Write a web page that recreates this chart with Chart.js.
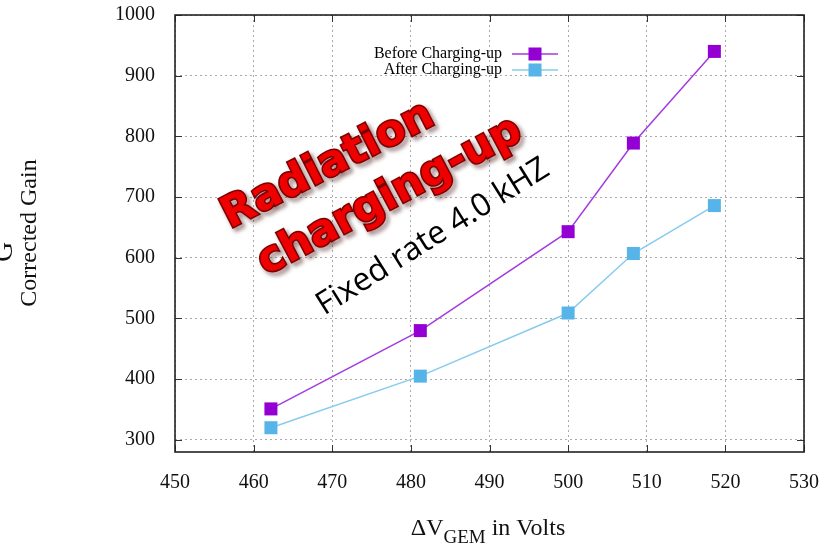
<!DOCTYPE html>
<html>
<head>
<meta charset="utf-8">
<script src="https://cdn.jsdelivr.net/npm/chart.js@4/dist/chart.umd.min.js"></script>
<style>
  body { margin: 0; background: #fff; }
  #wrap { width: 823px; height: 545px; position: relative; }
</style>
</head>
<body>
<div id="wrap"><canvas id="gainChart"></canvas></div>
<script>
// values
const voltages = [462.2, 481.2, 500, 508.3, 518.6];
const gainBefore = [351, 480, 643, 789, 940];
const gainAfter = [320, 405, 509, 607, 686];
const xTicks = [450, 460, 470, 480, 490, 500, 510, 520, 530];
const yTicks = [300, 400, 500, 600, 700, 800, 900, 1000];
const seriesNames = ['Before Charging-up', 'After Charging-up'];

const serif = "'Liberation Serif', 'DejaVu Serif', serif";

function toPoints(xs, ys) {
    return xs.map((x, i) => ({ x: x, y: ys[i] }));
}

// box, mirrored inner ticks, legend, axis titles and the slide text
const decorations = {
    id: 'decorations',
    beforeDatasetsDraw(chart) {
        const { ctx, chartArea: a, scales: { x, y } } = chart;
        ctx.save();
        ctx.strokeStyle = '#333';
        ctx.lineWidth = 1;
        const tl = 7;
        xTicks.forEach(v => {
            const px = Math.round(x.getPixelForValue(v)) + 0.5;
            ctx.beginPath();
            ctx.moveTo(px, a.bottom); ctx.lineTo(px, a.bottom - tl);
            ctx.moveTo(px, a.top); ctx.lineTo(px, a.top + tl);
            ctx.stroke();
        });
        yTicks.forEach(v => {
            const py = Math.round(y.getPixelForValue(v)) + 0.5;
            ctx.beginPath();
            ctx.moveTo(a.left, py); ctx.lineTo(a.left + tl, py);
            ctx.moveTo(a.right, py); ctx.lineTo(a.right - tl, py);
            ctx.stroke();
        });
        ctx.lineWidth = 1.6;
        ctx.strokeStyle = '#222';
        ctx.strokeRect(a.left, a.top, a.right - a.left, a.bottom - a.top);

        // red "Radiation charging-up" stamp
        ctx.font = "bold 43px 'DejaVu Sans', sans-serif";
        ctx.textAlign = 'center';
        ctx.textBaseline = 'middle';
        const stamp = [['Radiation', 328, 166, -27], ['charging-up', 390, 197, -28]];
        stamp.forEach(([txt, cx, cy, ang]) => {
            ctx.save();
            ctx.translate(cx, cy);
            ctx.rotate(ang * Math.PI / 180);
            ctx.shadowColor = 'rgba(60,0,0,0.6)';
            ctx.shadowOffsetX = 3;
            ctx.shadowOffsetY = 3;
            ctx.shadowBlur = 4;
            ctx.lineWidth = 3;
            ctx.strokeStyle = '#7a0000';
            ctx.strokeText(txt, 0, 0);
            ctx.shadowColor = 'transparent';
            ctx.fillStyle = '#ee0000';
            ctx.fillText(txt, 0, 0);
            ctx.restore();
        });

        ctx.save();
        ctx.translate(433, 237);
        ctx.rotate(-32 * Math.PI / 180);
        ctx.font = "32px 'Open Sans', 'Noto Sans', sans-serif";
        ctx.fillStyle = '#000';
        ctx.fillText('Fixed rate 4.0 kHZ', 0, 0);
        ctx.restore();
        ctx.restore();
    },
    afterDraw(chart) {
        const { ctx } = chart;
        ctx.save();
        // legend
        ctx.font = '16px ' + serif;
        ctx.textAlign = 'right';
        ctx.textBaseline = 'middle';
        chart.data.datasets.forEach((ds, i) => {
            const ly = 54 + i * 16;
            ctx.fillStyle = '#000';
            ctx.fillText(ds.label, 502, ly);
            ctx.strokeStyle = ds.borderColor;
            ctx.lineWidth = 1.5;
            ctx.beginPath();
            ctx.moveTo(512, ly); ctx.lineTo(558, ly);
            ctx.stroke();
            ctx.fillStyle = ds.pointBackgroundColor;
            ctx.fillRect(528.5, ly - 6.5, 13, 13);
        });

        // y title
        ctx.save();
        ctx.translate(30, 233);
        ctx.rotate(-Math.PI / 2);
        ctx.textAlign = 'center';
        ctx.font = '24px ' + serif;
        ctx.fillStyle = '#111';
        ctx.fillText('Corrected Gain', 0, 0);
        ctx.restore();

        // stray clipped glyph at the left edge
        ctx.save();
        ctx.translate(5, 252);
        ctx.rotate(-Math.PI / 2);
        ctx.textAlign = 'center';
        ctx.font = '28px ' + serif;
        ctx.fillStyle = '#111';
        ctx.fillText('G', 0, 0);
        ctx.restore();

        // x title with subscript
        ctx.textAlign = 'left';
        ctx.textBaseline = 'alphabetic';
        ctx.fillStyle = '#111';
        const big = '24px ' + serif, small = '19px ' + serif;
        const parts = [['\u0394V', big, 0], ['GEM', small, 8], [' in Volts', big, 0]];
        let w = 0;
        parts.forEach(([t, f]) => { ctx.font = f; w += ctx.measureText(t).width; });
        let tx = 488 - w / 2;
        parts.forEach(([t, f, dy]) => {
            ctx.font = f;
            ctx.fillText(t, tx, 535 + dy);
            tx += ctx.measureText(t).width;
        });
        ctx.restore();
    }
};

new Chart(document.getElementById('gainChart'), {
    type: 'line',
    data: {
        datasets: [
            {
                label: seriesNames[0],
                data: toPoints(voltages, gainBefore),
                borderColor: '#a33be0',
                borderWidth: 1.5,
                pointStyle: 'rect',
                pointRadius: 9.2,
                pointBorderWidth: 0,
                pointBackgroundColor: '#9400d3',
                pointBorderColor: '#9400d3',
                tension: 0
            },
            {
                label: seriesNames[1],
                data: toPoints(voltages, gainAfter),
                borderColor: '#87cbee',
                borderWidth: 1.5,
                pointStyle: 'rect',
                pointRadius: 9.2,
                pointBorderWidth: 0,
                pointBackgroundColor: '#56b4e9',
                pointBorderColor: '#56b4e9',
                tension: 0
            }
        ]
    },
    options: {
        responsive: true,
        maintainAspectRatio: false,
        animation: false,
        layout: { padding: { top: 15, right: 19, left: 0, bottom: 0 } },
        plugins: {
            legend: { display: false },
            tooltip: { enabled: false }
        },
        scales: {
            x: {
                type: 'linear',
                min: 450,
                max: 530,
                afterBuildTicks: s => { s.ticks = xTicks.map(v => ({ value: v })); },
                afterFit: s => { s.height = 93; s.paddingLeft = 0; s.paddingRight = 0; },
                grid: { color: '#aaa', drawTicks: false },
                border: { display: false, dash: [2, 3] },
                ticks: { padding: 19, color: '#111', font: { family: serif, size: 20 }, callback: v => String(v) }
            },
            y: {
                type: 'linear',
                min: 280,
                max: 1000,
                afterBuildTicks: s => { s.ticks = yTicks.map(v => ({ value: v })); },
                afterFit: s => { s.width = 175; s.paddingTop = 0; s.paddingBottom = 0; },
                grid: { color: '#aaa', drawTicks: false },
                border: { display: false, dash: [2, 3] },
                ticks: { padding: 20, color: '#111', font: { family: serif, size: 20 }, callback: v => String(v) }
            }
        }
    },
    plugins: [decorations]
});
</script>
</body>
</html>
